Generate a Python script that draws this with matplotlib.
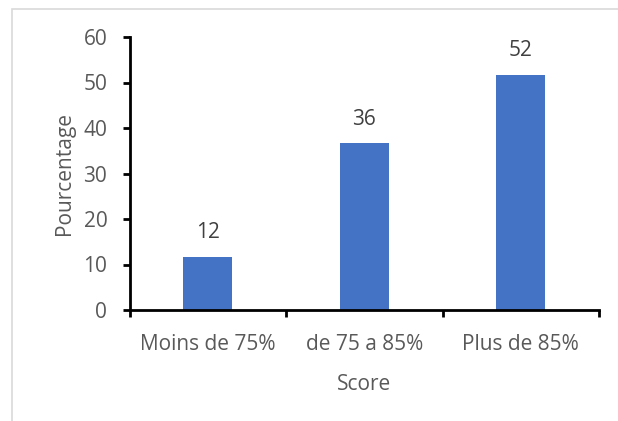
import matplotlib
matplotlib.use("Agg")
import matplotlib.pyplot as plt
from matplotlib.patches import Rectangle

categories = ["Moins de 75%", "de 75 a 85%", "Plus de 85%"]
values = [11.6, 36.6, 51.6]
value_labels = ["12", "36", "52"]
yticks = [0, 10, 20, 30, 40, 50, 60]

plt.rcParams['font.family'] = ['Open Sans', 'DejaVu Sans']
gray = "#595959"
fs = 15

fig = plt.figure(figsize=(6.18, 4.21), dpi=100)
ax = fig.add_axes([129.5/618, 1-310/421, (599-129.5)/618, (310-37)/421])

x = list(range(len(categories)))
bars = ax.bar(x, values, width=0.31, color="#4472C4", zorder=2)
for xi, v, lab in zip(x, values, value_labels):
    ax.annotate(lab, (xi, v), xytext=(0, 10), textcoords="offset points",
                ha="center", va="bottom", fontsize=fs, color="#404040")

ax.set_xlim(-0.5, len(categories) - 0.5)
ax.set_ylim(0, 60)
ax.set_yticks(yticks)
ax.set_xticks(x)
ax.set_xticklabels(categories)
ax.set_xticks([i - 0.5 for i in range(len(categories) + 1)], minor=True)
ax.tick_params(axis="x", which="major", length=0, pad=17, labelsize=fs, labelcolor=gray)
ax.tick_params(axis="x", which="minor", length=5, width=2, color="black", direction="out")
ax.tick_params(axis="y", length=5, width=2, color="black", direction="out", pad=11,
               labelsize=fs, labelcolor=gray)
for s in ["top", "right"]:
    ax.spines[s].set_visible(False)
for s in ["left", "bottom"]:
    ax.spines[s].set_linewidth(2)
    ax.spines[s].set_color("black")

ax.set_xlabel("Score", fontsize=fs, color=gray, labelpad=14)
ax.set_ylabel("Pourcentage", fontsize=fs, color=gray, labelpad=6)

fig.patches.append(Rectangle((12/618, -0.1), 1.2, 1 - 9/421 + 0.1, transform=fig.transFigure,
                             fill=False, edgecolor="#d9d9d9", linewidth=1.2, zorder=0))

fig.savefig("out.png", dpi=100)
